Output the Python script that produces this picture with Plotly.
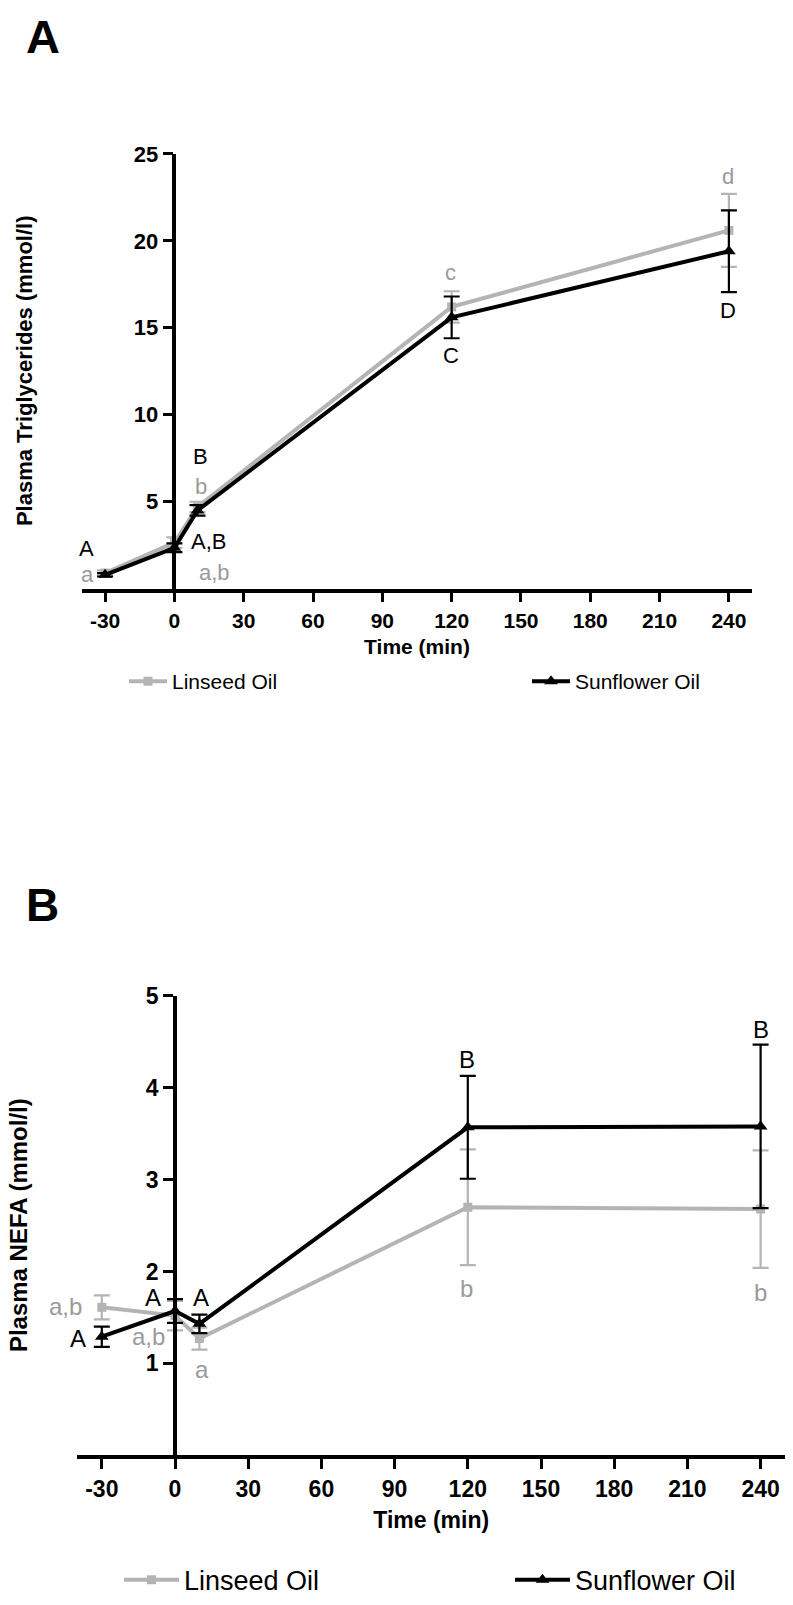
import plotly.graph_objects as go

# ---------------- data ----------------
time_min = [-30, 0, 10, 120, 240]
x_ticks = [-30, 0, 30, 60, 90, 120, 150, 180, 210, 240]
x_tick_labels = ["-30", "0", "30", "60", "90", "120", "150", "180", "210", "240"]
tg_ticks = [5, 10, 15, 20, 25]
nefa_ticks = [1, 2, 3, 4, 5]

tg_linseed = [0.9, 2.65, 4.7, 16.2, 20.6]
tg_linseed_se = [0.15, 0.3, 0.3, 0.9, 2.1]
tg_sunflower = [0.8, 2.35, 4.5, 15.6, 19.4]
tg_sunflower_se = [0.1, 0.25, 0.3, 1.2, 2.35]

nefa_linseed = [1.61, 1.52, 1.27, 2.70, 2.68]
nefa_linseed_se = [0.13, 0.16, 0.12, 0.63, 0.64]
nefa_sunflower = [1.29, 1.57, 1.43, 3.57, 3.58]
nefa_sunflower_se = [0.11, 0.13, 0.10, 0.56, 0.89]

# significance letters (L = linseed / grey, S = sunflower / black)
tg_let_text = ["A", "a", "B", "b", "A,B", "a,b", "c", "C", "d", "D"]
tg_let_x = [-38, -37.7, 11.3, 11.3, 14.7, 17.3, 119.7, 119.7, 239.4, 239.4]
tg_let_y = [2.3, 0.8, 7.6, 5.85, 2.72, 0.94, 18.2, 13.4, 23.7, 16.0]
tg_let_series = ["S", "L", "S", "L", "S", "L", "L", "S", "L", "S"]

nefa_let_text = ["a,b", "A", "A", "A", "a,b", "a", "B", "b", "B", "b"]
nefa_let_x = [-38, -39.8, -9, 10.7, -11, 11, 119.5, 119.5, 240, 240]
nefa_let_y = [1.62, 1.27, 1.72, 1.72, 1.29, 0.93, 4.31, 1.81, 4.63, 1.77]
nefa_let_series = ["L", "S", "S", "S", "L", "L", "S", "L", "S", "L"]
nefa_let_shift = [-17, 0, 0, 0, 0, 0, 0, 0, 0, 0]

# ---------------- style ----------------
W, H = 793, 1605
FONT = "Liberation Sans, Arial, Helvetica, sans-serif"
GREY = "#b4b4b4"
GREY_TXT = "#9a9a9a"
BLACK = "#000000"
X_RANGE = [-40, 250]

xdomA = [82 / W, 752 / W]
ydomA = [1 - 580.4 / H, 1 - 142 / H]
xdomB = [77.4 / W, 785 / W]
ydomB = [1 - 1454 / H, 1 - 991 / H]


def zero_pos(dom):
    return dom[0] + (0 - X_RANGE[0]) / (X_RANGE[1] - X_RANGE[0]) * (dom[1] - dom[0])


fig = go.Figure()


def add_series(y, se, name, color, symbol, msize, xa, ya, legend):
    fig.add_trace(go.Scatter(
        x=time_min, y=y, name=name, mode="lines+markers",
        line=dict(color=color, width=4),
        marker=dict(color=color, symbol=symbol, size=msize),
        error_y=dict(type="data", array=se, color=color, thickness=2.2, width=8),
        xaxis=xa, yaxis=ya, legend=legend, cliponaxis=False,
    ))


add_series(tg_linseed, tg_linseed_se, "Linseed Oil", GREY, "square", 9, "x", "y", "legend")
add_series(tg_sunflower, tg_sunflower_se, "Sunflower Oil", BLACK, "triangle-up", 12, "x", "y", "legend2")
add_series(nefa_linseed, nefa_linseed_se, "Linseed Oil", GREY, "square", 9, "x2", "y2", "legend3")
add_series(nefa_sunflower, nefa_sunflower_se, "Sunflower Oil", BLACK, "triangle-up", 12, "x2", "y2", "legend4")

annotations = []
for t, x, y, s in zip(tg_let_text, tg_let_x, tg_let_y, tg_let_series):
    annotations.append(dict(text=t, x=x, y=y, xref="x", yref="y", showarrow=False,
                            font=dict(family=FONT, size=22, color=GREY_TXT if s == "L" else BLACK)))
for t, x, y, s, sh in zip(nefa_let_text, nefa_let_x, nefa_let_y, nefa_let_series, nefa_let_shift):
    annotations.append(dict(text=t, x=x, y=y, xref="x2", yref="y2", showarrow=False, xshift=sh,
                            font=dict(family=FONT, size=24, color=GREY_TXT if s == "L" else BLACK)))

# panel letters
annotations.append(dict(text="<b>A</b>", x=24 / W, y=1 - 24 / H, xref="paper", yref="paper",
                        xanchor="left", yanchor="middle", showarrow=False,
                        font=dict(family=FONT, size=47, color=BLACK)))
annotations.append(dict(text="<b>B</b>", x=24 / W, y=1 - 899 / H, xref="paper", yref="paper",
                        xanchor="left", yanchor="middle", showarrow=False,
                        font=dict(family=FONT, size=46, color=BLACK)))
# y-axis titles
annotations.append(dict(text="<b>Plasma Triglycerides (mmol/l)</b>", x=24 / W, y=1 - 361 / H,
                        xref="paper", yref="paper", textangle=-90, showarrow=False,
                        xanchor="center", yanchor="middle",
                        font=dict(family=FONT, size=22, color=BLACK)))
annotations.append(dict(text="<b>Plasma NEFA (mmol/l)</b>", x=18 / W, y=1 - 1222 / H,
                        xref="paper", yref="paper", textangle=-90, showarrow=False,
                        xanchor="center", yanchor="middle",
                        font=dict(family=FONT, size=24, color=BLACK)))


def xaxis(dom, anchor, size, standoff):
    return dict(domain=dom, anchor=anchor, range=X_RANGE, tickvals=x_ticks, ticktext=x_tick_labels,
                showline=True, linewidth=3.5, linecolor=BLACK, ticks="outside",
                ticklen=10, tickwidth=3, tickcolor=BLACK, showgrid=False, zeroline=False,
                tickfont=dict(family=FONT, size=size, color=BLACK, weight="bold"),
                title=dict(text="Time (min)", standoff=standoff,
                           font=dict(family=FONT, size=size, color=BLACK, weight="bold")))


def yaxis(dom, xdom, rng, tv, size):
    return dict(domain=dom, anchor="free", position=zero_pos(xdom), range=rng, tickvals=tv,
                showline=True, linewidth=3.5, linecolor=BLACK, ticks="outside",
                ticklen=10, tickwidth=3, tickcolor=BLACK, showgrid=False, zeroline=False,
                tickfont=dict(family=FONT, size=size, color=BLACK, weight="bold"))


def legend(x, y, size, iw):
    return dict(x=x, y=y, xanchor="left", yanchor="middle", orientation="h",
                font=dict(family=FONT, size=size, color=BLACK), itemwidth=iw,
                bgcolor="rgba(0,0,0,0)")


fig.update_layout(
    width=W, height=H, margin=dict(l=0, r=0, t=0, b=0),
    paper_bgcolor="white", plot_bgcolor="white",
    font=dict(family=FONT),
    xaxis=xaxis(xdomA, "y", 21, 10),
    yaxis=yaxis(ydomA, xdomA, [0, 25], tg_ticks, 22),
    xaxis2=xaxis(xdomB, "y2", 23, 12),
    yaxis2=yaxis(ydomB, xdomB, [0, 5], nefa_ticks, 23),
    legend=legend(124 / W, 1 - 674 / H, 21, 38),
    legend2=legend(527 / W, 1 - 674 / H, 21, 38),
    legend3=legend(119 / W, 1 - 1580 / H, 27, 55),
    legend4=legend(510 / W, 1 - 1580 / H, 27, 55),
    annotations=annotations,
    showlegend=True,
)

fig.write_html("out.html", config={"displayModeBar": False},
               post_script="document.body.style.margin='0px';")
